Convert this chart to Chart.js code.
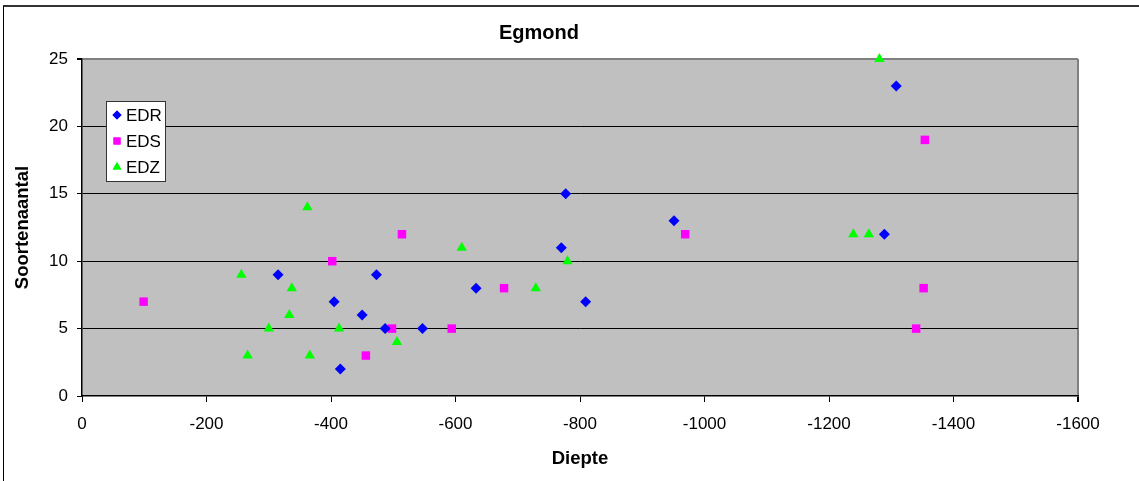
<!DOCTYPE html>
<html>
<head>
<meta charset="utf-8">
<title>Egmond</title>
<script src="https://cdn.jsdelivr.net/npm/chart.js@4.4.0/dist/chart.umd.min.js"></script>
<style>
  html, body { margin: 0; padding: 0; background: #fff; overflow: hidden; }
  #wrap { position: relative; width: 1139px; height: 481px; }
  #frame {
    position: absolute; left: 3px; top: 5px; right: -10px; bottom: -10px;
    border-top: 2px solid #333; border-left: 1px solid #000;
  }
  #egmond { position: absolute; left: 0; top: 0; }
</style>
</head>
<body>
<div id="wrap">
  <div id="frame"></div>
  <canvas id="egmond" width="1139" height="481"></canvas>
</div>
<script>
// depth (x) and species count (y) per series
const edrDepth = [-315, -405, -450, -473, -487, -547, -415, -633, -777, -770, -809, -951, -1289, -1308];
const edrCount = [9, 7, 6, 9, 5, 5, 2, 8, 15, 11, 7, 13, 12, 23];

const edsDepth = [-99, -402, -456, -498, -514, -594, -678, -969, -1340, -1352, -1354];
const edsCount = [7, 10, 3, 5, 12, 5, 8, 12, 5, 8, 19];

const edzDepth = [-256, -266, -300, -333, -337, -362, -366, -413, -506, -610, -729, -780, -1239, -1264, -1281];
const edzCount = [9, 3, 5, 6, 8, 14, 3, 5, 4, 11, 8, 10, 12, 12, 25];

const xTicks = [0, -200, -400, -600, -800, -1000, -1200, -1400, -1600];
const yTicks = [0, 5, 10, 15, 20, 25];

const FONT = '"Liberation Sans", Arial, sans-serif';

const toPoints = (xs, ys) => xs.map((x, i) => ({ x, y: ys[i] }));

const seriesList = [
  { label: 'EDR', color: '#0000FF', style: 'rectRot', radius: 5.5, xs: edrDepth, ys: edrCount },
  { label: 'EDS', color: '#FF00FF', style: 'rect', radius: 6, xs: edsDepth, ys: edsCount },
  { label: 'EDZ', color: '#00FF00', style: 'triangle', radius: 6, xs: edzDepth, ys: edzCount }
];

// grey plot background
const plotBackground = {
  id: 'plotBackground',
  beforeDraw(chart) {
    const { ctx, chartArea: a } = chart;
    ctx.save();
    ctx.fillStyle = '#C0C0C0';
    ctx.fillRect(a.left, a.top, a.right - a.left, a.bottom - a.top);
    ctx.restore();
  }
};

// boxed legend sitting inside the plot, like the Excel one
const insetLegend = {
  id: 'insetLegend',
  afterDraw(chart) {
    const { ctx, chartArea: a } = chart;
    const left = a.left + 24, top = a.top + 42, w = 59, h = 80;
    ctx.save();
    ctx.fillStyle = '#fff';
    ctx.fillRect(left, top, w, h);
    ctx.strokeStyle = '#333';
    ctx.lineWidth = 1;
    ctx.strokeRect(left + 0.5, top + 0.5, w, h);
    ctx.font = '17px ' + FONT;
    ctx.textBaseline = 'middle';
    seriesList.forEach((s, i) => {
      const cy = top + 14 + i * 26;
      ctx.fillStyle = s.color;
      Chart.helpers.drawPoint(ctx, { pointStyle: s.style, radius: s.radius - 1, borderWidth: 0 }, left + 11, cy);
      ctx.fill();
      ctx.fillStyle = '#000';
      ctx.fillText(s.label, left + 20, cy + 1);
    });
    ctx.restore();
  }
};

const chart = new Chart(document.getElementById('egmond'), {
  type: 'scatter',
  data: {
    datasets: seriesList.map(s => ({
      label: s.label,
      data: toPoints(s.xs, s.ys),
      pointStyle: s.style,
      pointRadius: s.radius,
      pointHoverRadius: s.radius,
      backgroundColor: s.color,
      borderColor: s.color,
      pointBorderWidth: 0,
      clip: false
    }))
  },
  options: {
    responsive: false,
    animation: false,
    layout: { padding: { left: 0, right: 61, top: 0, bottom: 0 } },
    plugins: {
      legend: { display: false },
      tooltip: { enabled: false },
      title: {
        display: true,
        text: 'Egmond',
        color: '#000',
        font: { family: FONT, size: 20, weight: 'bold' },
        padding: { top: 21, bottom: 14 }
      }
    },
    scales: {
      x: {
        type: 'linear',
        reverse: true,
        min: -1600,
        max: 0,
        afterBuildTicks: axis => { axis.ticks = xTicks.map(v => ({ value: v })); },
        afterFit: axis => { axis.height = 85; },
        ticks: {
          color: '#000',
          padding: 12,
          maxRotation: 0,
          font: { family: FONT, size: 17 },
          callback: v => String(v)
        },
        grid: {
          drawOnChartArea: true,
          color: c => (c.tick && c.tick.value === -1600 ? '#808080' : 'rgba(0,0,0,0)'),
          lineWidth: c => (c.tick && c.tick.value === -1600 ? 2 : 1),
          tickColor: '#000',
          tickLength: 6
        },
        border: { color: '#000', width: 1.5 },
        title: {
          display: true,
          text: 'Diepte',
          color: '#000',
          font: { family: FONT, size: 18.5, weight: 'bold' },
          padding: { top: 6, bottom: 11 }
        }
      },
      y: {
        type: 'linear',
        min: 0,
        max: 25,
        afterBuildTicks: axis => { axis.ticks = yTicks.map(v => ({ value: v })); },
        afterFit: axis => { axis.width = 82; },
        ticks: {
          color: '#000',
          padding: 9,
          font: { family: FONT, size: 17 },
          callback: v => String(v)
        },
        grid: {
          color: c => {
            if (!c.tick) return '#000';
            if (c.tick.value === 25) return '#808080';
            if (c.tick.value === 0) return 'rgba(0,0,0,0)';
            return '#000';
          },
          lineWidth: c => (c.tick && c.tick.value === 25 ? 2 : 1),
          tickColor: '#000',
          tickLength: 5
        },
        border: { color: '#000', width: 1.5 },
        title: {
          display: true,
          text: 'Soortenaantal',
          color: '#000',
          font: { family: FONT, size: 18.5, weight: 'bold' },
          padding: { top: 12, bottom: 4 }
        }
      }
    }
  },
  plugins: [plotBackground, insetLegend]
});
</script>
</body>
</html>
